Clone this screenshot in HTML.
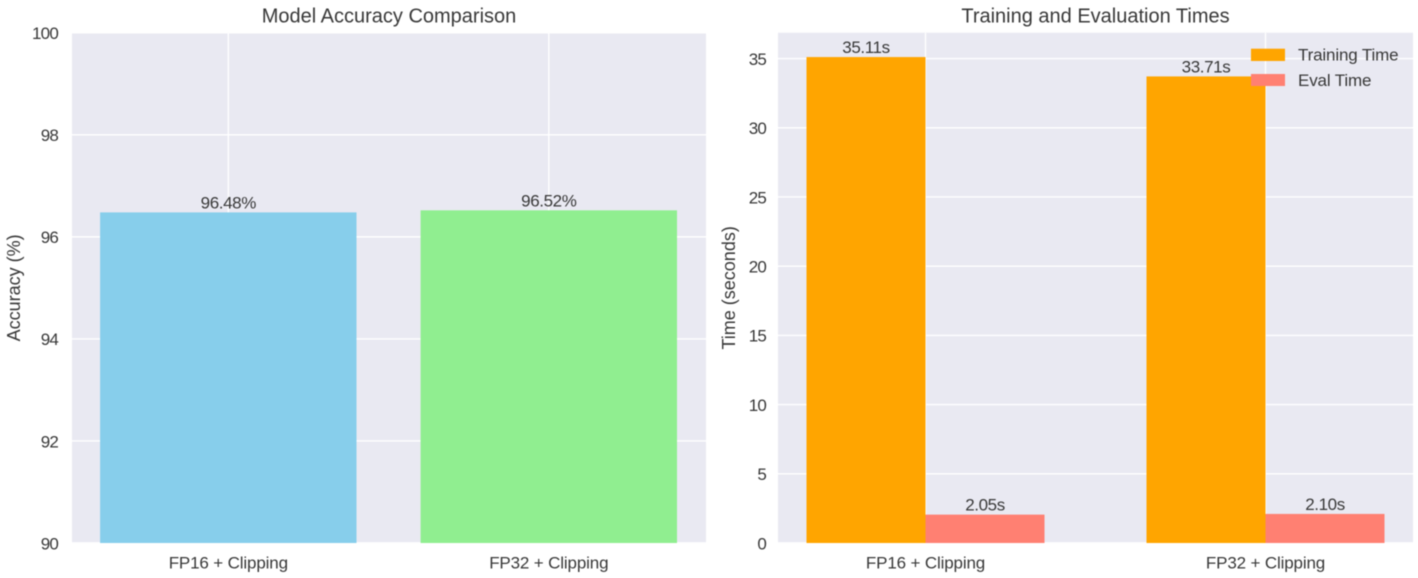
<!DOCTYPE html>
<html lang="en">
<head>
<meta charset="utf-8">
<title>Model Accuracy and Training Times</title>
<style>
  html, body { margin: 0; padding: 0; background: #ffffff; }
  #chart-figure { display: block; width: 1418px; height: 578px; filter: blur(0.45px); }
  text { font-family: "Liberation Sans", Arial, sans-serif; fill: #383838; }
</style>
</head>
<body>
<svg id="chart-figure" xmlns="http://www.w3.org/2000/svg" width="1418" height="578" viewBox="0 0 1418 578"></svg>
<script>
const accuracyCategories = ['FP16 + Clipping', 'FP32 + Clipping'];
const accuracyValues = [96.48, 96.52];
const accuracyLabels = ['96.48%', '96.52%'];
const accuracyTicks = [90, 92, 94, 96, 98, 100];

const timeCategories = ['FP16 + Clipping', 'FP32 + Clipping'];
const trainingTimes = [35.11, 33.71];
const evalTimes = [2.05, 2.10];
const trainingLabels = ['35.11s', '33.71s'];
const evalLabels = ['2.05s', '2.10s'];
const timeTicks = [0, 5, 10, 15, 20, 25, 30, 35];

const svg = document.getElementById('chart-figure');
const NS = 'http://www.w3.org/2000/svg';

function make(tag, attrs, name, text) {
  const el = document.createElementNS(NS, tag);
  for (const k in attrs) el.setAttribute(k, attrs[k]);
  
  
  if (text !== undefined) el.textContent = text;
  svg.appendChild(el);
  return el;
}

function scale(d0, d1, r0, r1) {
  return v => r0 + (v - d0) * (r1 - r0) / (d1 - d0);
}

function drawFrame(box, xScale, yScale, cats, ticks, title, yTitle, yTitleX, tickGap, prefix) {
  make('rect', { x: box.l, y: box.t, width: box.r - box.l, height: box.b - box.t, fill: '#e9e9f2' }, prefix + '-plot-area');
  ticks.forEach(t => {
    make('line', { x1: box.l, x2: box.r, y1: yScale(t), y2: yScale(t), stroke: '#ffffff', 'stroke-width': 1.4 }, prefix + '-y-gridline');
    make('text', { x: box.l - tickGap, y: yScale(t) + 6.3, 'text-anchor': 'end', 'font-size': 17, 'letter-spacing': -0.8 }, prefix + '-y-tick-label', String(t));
  });
  cats.forEach((c, i) => {
    make('line', { x1: xScale(i), x2: xScale(i), y1: box.t, y2: box.b, stroke: '#ffffff', 'stroke-width': 1.4 }, prefix + '-x-gridline');
    make('text', { x: xScale(i), y: 568.3, 'text-anchor': 'middle', 'font-size': 17, 'letter-spacing': -0.15 }, prefix + '-x-tick-label', c);
  });
  make('text', { x: (box.l + box.r) / 2, y: 22.7, 'text-anchor': 'middle', 'font-size': 20 }, prefix + '-title', title);
  const cy = (box.t + box.b) / 2;
  make('text', { x: yTitleX, y: cy, 'text-anchor': 'middle', 'font-size': 18, transform: 'rotate(-90 ' + yTitleX + ' ' + cy + ')' }, prefix + '-y-axis-title', yTitle);
}

function drawBar(xLeft, xRight, yTop, yBase, fill, name) {
  make('rect', { x: xLeft, y: yTop, width: xRight - xLeft, height: yBase - yTop, fill: fill }, name);
}

function barLabel(x, y, text, name) {
  make('text', { x: x, y: y - 4, 'text-anchor': 'middle', 'font-size': 17, 'letter-spacing': -0.4 }, name, text);
}

/* Left panel: accuracy */
const leftBox = { l: 72, r: 706, t: 32.8, b: 543 };
const leftX = scale(0, 1, 228.3, 548.8);
const leftY = scale(90, 100, leftBox.b, leftBox.t);
drawFrame(leftBox, leftX, leftY, accuracyCategories, accuracyTicks, 'Model Accuracy Comparison', 'Accuracy (%)', 20, 14, 'accuracy');
const accuracyColors = ['#87ceeb', '#90ee90'];
const accuracyWidth = 0.8;
accuracyValues.forEach((v, i) => {
  drawBar(leftX(i - accuracyWidth / 2), leftX(i + accuracyWidth / 2), leftY(v), leftY(90), accuracyColors[i], 'accuracy-bar-' + (i + 1));
  barLabel(leftX(i), leftY(v), accuracyLabels[i], 'accuracy-bar-label-' + (i + 1));
});

/* Right panel: times */
const rightBox = { l: 778, r: 1413, t: 32.7, b: 543 };
const rightX = scale(0, 1, 925.5, 1265.5);
const rightY = scale(0, 36.87, rightBox.b, rightBox.t);
drawFrame(rightBox, rightX, rightY, timeCategories, timeTicks, 'Training and Evaluation Times', 'Time (seconds)', 735, 12, 'time');
const barWidth = 0.35;
const trainingColor = '#ffa500';
const evalColor = '#ff8072';
timeCategories.forEach((c, i) => {
  drawBar(rightX(i - barWidth), rightX(i), rightY(trainingTimes[i]), rightY(0), trainingColor, 'training-bar-' + (i + 1));
  drawBar(rightX(i), rightX(i + barWidth), rightY(evalTimes[i]), rightY(0), evalColor, 'eval-bar-' + (i + 1));
  barLabel(rightX(i - barWidth / 2), rightY(trainingTimes[i]), trainingLabels[i], 'training-bar-label-' + (i + 1));
  barLabel(rightX(i + barWidth / 2), rightY(evalTimes[i]), evalLabels[i], 'eval-bar-label-' + (i + 1));
});

/* Legend */
make('rect', { x: 1251, y: 48.7, width: 34, height: 12.3, fill: trainingColor }, 'legend-swatch-training');
make('text', { x: 1298, y: 60.5, 'font-size': 17, 'letter-spacing': -0.15 }, 'legend-label-training', 'Training Time');
make('rect', { x: 1251, y: 74, width: 34, height: 12, fill: evalColor }, 'legend-swatch-eval');
make('text', { x: 1298, y: 86, 'font-size': 17, 'letter-spacing': -0.15 }, 'legend-label-eval', 'Eval Time');
</script>
</body>
</html>
